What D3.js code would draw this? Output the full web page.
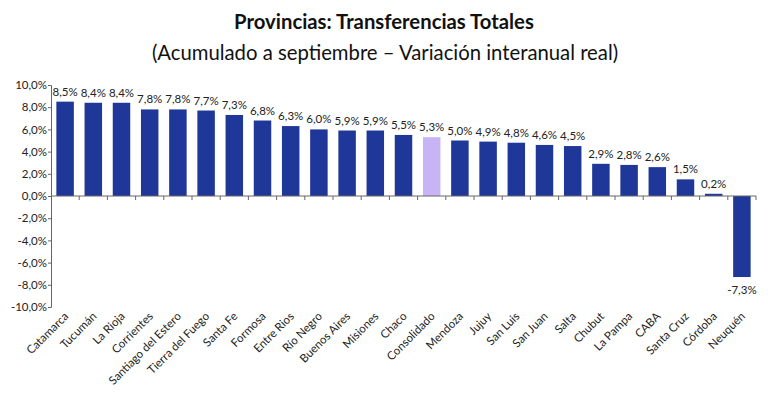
<!DOCTYPE html>
<html><head><meta charset="utf-8">
<script src="https://cdn.jsdelivr.net/npm/d3@7"></script>
<style>body{margin:0;background:#fff;} svg{display:block;font-family:Lato,"Open Sans",sans-serif;}</style>
</head><body>
<svg id="c" width="770" height="394"></svg>
<script>
const categories = ["Catamarca","Tucumán","La Rioja","Corrientes","Santiago del Estero","Tierra del Fuego","Santa Fe","Formosa","Entre Rios","Río Negro","Buenos Aires","Misiones","Chaco","Consolidado","Mendoza","Jujuy","San Luis","San Juan","Salta","Chubut","La Pampa","CABA","Santa Cruz","Córdoba","Neuquén"];
const values = [8.5,8.4,8.4,7.8,7.8,7.7,7.3,6.8,6.3,6.0,5.9,5.9,5.5,5.3,5.0,4.9,4.8,4.6,4.5,2.9,2.8,2.6,1.5,0.2,-7.3];
const yTicks = [10,8,6,4,2,0,-2,-4,-6,-8,-10];
const highlight = "Consolidado";
const title = "Provincias: Transferencias Totales";
const subtitle = "(Acumulado a septiembre – Variación interanual real)";

(function(){
const svg = d3.select("#c");
const left = 51, right = 756, pTop = 85, pBottom = 307;
const x = d3.scaleBand().domain(categories).range([left, right]).paddingInner(0.38).paddingOuter(0.19);
const y = d3.scaleLinear().domain([-10, 10]).range([pBottom, pTop]);
const fmt = v => (v < 0 ? "-" : "") + Math.abs(v).toFixed(1).replace(".", ",") + "%";

svg.append("text").attr("x", 384).attr("y", 29).attr("text-anchor", "middle")
  .attr("font-size", 20.3).attr("font-weight", "bold").attr("fill", "#111").text(title);
svg.append("text").attr("x", 385).attr("y", 60).attr("text-anchor", "middle")
  .attr("font-size", 20.3).attr("fill", "#111").text(subtitle);

svg.selectAll("rect.bar").data(categories).join("rect").attr("class","bar")
  .attr("x", d => x(d)).attr("width", x.bandwidth())
  .attr("y", (d, i) => y(Math.max(0, values[i])))
  .attr("height", (d, i) => Math.abs(y(values[i]) - y(0)))
  .attr("fill", d => d === highlight ? "#c6b4f4" : "#1f3799");

svg.selectAll("text.val").data(categories).join("text").attr("class","val")
  .attr("x", d => x(d) + x.bandwidth() / 2)
  .attr("y", (d, i) => values[i] >= 0 ? y(values[i]) - 6 : y(values[i]) + 17)
  .attr("text-anchor", "middle").attr("font-size", 11.5).attr("fill", "#222")
  .text((d, i) => fmt(values[i]));

const ya = svg.append("g").attr("transform", `translate(${left},0)`)
  .call(d3.axisLeft(y).tickValues(yTicks).tickSize(3).tickFormat(fmt));
ya.select(".domain").attr("stroke", "#666");
ya.selectAll(".tick line").attr("stroke", "#666");
ya.selectAll("text").attr("font-size", 11.5).attr("fill", "#222").attr("font-family", "Lato,'Open Sans',sans-serif").attr("x", -4);

const bounds = d3.range(categories.length + 1).map(i => left + i * (right - left) / categories.length);
svg.append("line").attr("x1", left).attr("x2", right).attr("y1", y(0)).attr("y2", y(0)).attr("stroke", "#666");
svg.selectAll("line.xt").data(bounds.slice(1)).join("line").attr("class","xt")
  .attr("x1", d => d).attr("x2", d => d).attr("y1", y(0)).attr("y2", y(0) + 4).attr("stroke", "#666");

svg.selectAll("text.cat").data(categories).join("text").attr("class","cat")
  .attr("transform", d => `translate(${x(d) + x.bandwidth() / 2 + 4},${pBottom + 10}) rotate(-45)`)
  .attr("text-anchor", "end").attr("font-size", 11.5).attr("fill", "#222")
  .text(d => d);
})();
</script>
</body></html>
